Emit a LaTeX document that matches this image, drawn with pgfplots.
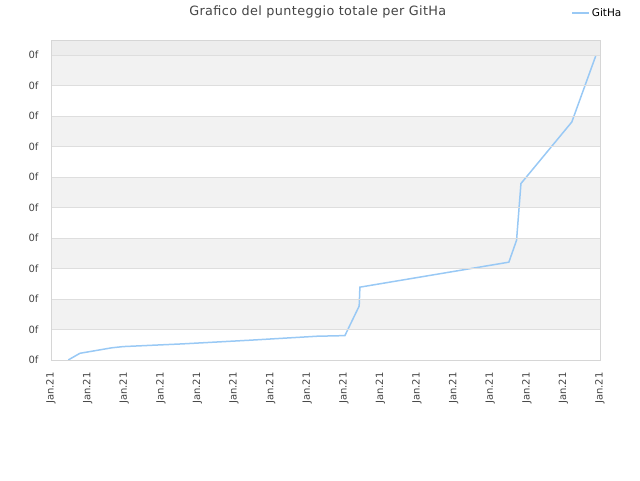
\documentclass[border=0pt]{standalone}
\usepackage{pgfplots}
\pgfplotsset{compat=1.18}
\usepackage{fontspec}
\setmainfont{DejaVu Sans}
\definecolor{lineblue}{RGB}{153,201,245}
\definecolor{bandgray}{RGB}{242,242,242}
\definecolor{topgray}{RGB}{237,237,237}
\definecolor{gridgray}{RGB}{222,222,222}
\definecolor{axisgray}{RGB}{214,214,214}
\definecolor{textgray}{RGB}{68,68,68}

\begin{document}
\begin{tikzpicture}[x=1pt,y=1pt]
\useasboundingbox (0,0) rectangle (640,480);
\begin{axis}[
    at={(51pt,120pt)}, anchor=south west,
    width=549pt, height=320pt, scale only axis,
    xmin=0, xmax=15,
    ymin=0, ymax=10.5,
    xtick={0,1,...,15},
    ytick={0,1,...,10},
    xticklabel={Jan.21},
    yticklabel={0f},
    xticklabel style={rotate=90, anchor=east, font=\fontsize{10}{12}\selectfont, text=textgray},
    yticklabel style={anchor=east, font=\fontsize{10}{12}\selectfont, text=textgray},
    xticklabel shift=9pt,
    yticklabel shift=9pt,
    major tick length=0pt,
    ymajorgrids=true,
    axis on top,
    grid style={gridgray, line width=0.8pt},
    axis line style={axisgray, line width=0.8pt},
    every axis title shift=0pt,
    title={Grafico del punteggio totale per GitHa},
    title style={at={(0.486,1.0875)}, anchor=center, font=\fontsize{12.8}{14}\selectfont\addfontfeatures{LetterSpace=3}, text=textgray},
    legend style={at={(0.942,1.084)}, anchor=west, draw=none, fill=none,
        font=\fontsize{10.5}{12}\selectfont, text=black},
    legend image code/.code={\draw[#1] (0pt,0pt) -- (9pt,0pt); \path (0pt,0pt) -- (17pt,0pt);},
]
% background bands
\fill[topgray] (axis cs:0,10) rectangle (axis cs:15,10.5);
\fill[bandgray] (axis cs:0,9) rectangle (axis cs:15,10);
\fill[bandgray] (axis cs:0,7) rectangle (axis cs:15,8);
\fill[bandgray] (axis cs:0,5) rectangle (axis cs:15,6);
\fill[bandgray] (axis cs:0,3) rectangle (axis cs:15,4);
\fill[bandgray] (axis cs:0,1) rectangle (axis cs:15,2);

\addplot[color=lineblue, line width=1.5pt, mark=none]
    coordinates {
    (0.47,0)(0.79,0.22)(1.66,0.40)(1.97,0.44)(3.61,0.53)(5.44,0.65)
    (7.27,0.78)(8.03,0.80)(8.42,1.77)(8.44,2.39)(12.51,3.21)(12.72,3.93)
    (12.84,5.79)(14.23,7.81)(14.89,10.0)
    };
\addlegendentry{GitHa}
\end{axis}
\end{tikzpicture}
\end{document}
